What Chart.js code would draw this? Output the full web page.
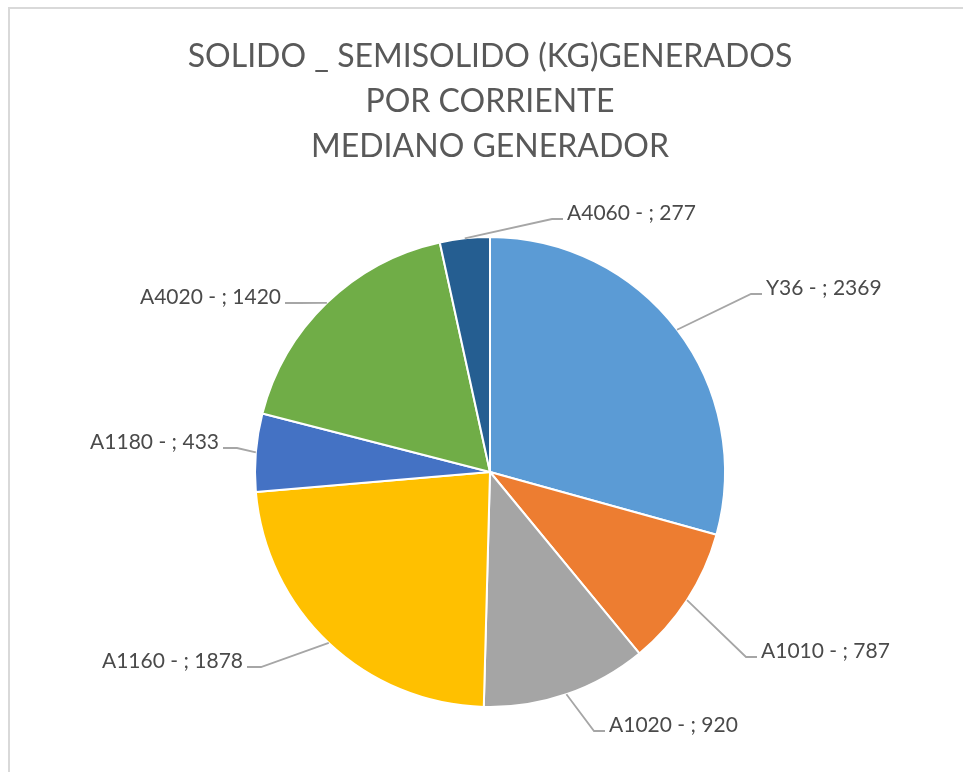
<!DOCTYPE html>
<html>
<head>
<meta charset="utf-8">
<script src="https://cdn.jsdelivr.net/npm/chart.js@4.4.0/dist/chart.umd.min.js"></script>
<style>
  html, body { margin: 0; padding: 0; background: #fff; }
  #frame { position: absolute; left: 8px; top: 7px; width: 960px; height: 770px;
           border-top: 2px solid #d9d9d9; border-left: 2px solid #d9d9d9; }
  #wrap { position: absolute; left: 0; top: 0; width: 963px; height: 772px; }
</style>
</head>
<body>
<div id="frame"></div>
<div id="wrap"><canvas id="mycanvas" width="963" height="772"></canvas></div>
<script>
var categories = ['Y36', 'A1010', 'A1020', 'A1160', 'A1180', 'A4020', 'A4060'];
var values = [2369, 787, 920, 1878, 433, 1420, 277];
var colors = ['#5B9BD5', '#ED7D31', '#A5A5A5', '#FFC000', '#4472C4', '#70AD47', '#255E91'];
var titleLines = ['SOLIDO _ SEMISOLIDO (KG)GENERADOS', 'POR CORRIENTE', 'MEDIANO GENERADOR'];

// where each label's leader ends, relative to the pie centre
var labelAnchors = [[272, -178], [267, 185], [115, 259], [-243, 195], [-267, -24], [-205, -169], [73, -253]];

var outsideLabels = {
	id: 'outsideLabels',
	afterDatasetsDraw: function(chart) {
		var ctx = chart.ctx;
		var arcs = chart.getDatasetMeta(0).data;
		ctx.save();
		ctx.font = '21px Lato';
		ctx.textBaseline = 'middle';
		for (var i = 0; i < arcs.length; i++) {
			var a = arcs[i].getProps(['x', 'y', 'startAngle', 'endAngle', 'outerRadius'], true);
			var mid = (a.startAngle + a.endAngle) / 2;
			var ex = a.x + Math.cos(mid) * a.outerRadius;
			var ey = a.y + Math.sin(mid) * a.outerRadius;
			var ax = a.x + labelAnchors[i][0];
			var ay = a.y + labelAnchors[i][1];
			var right = labelAnchors[i][0] > 0;
			var elbow = right ? ax - 11 : ax + 14;

			ctx.strokeStyle = '#a6a6a6';
			ctx.lineWidth = 1.8;
			ctx.beginPath();
			ctx.moveTo(ex, ey);
			ctx.lineTo(elbow, ay);
			ctx.lineTo(ax, ay);
			ctx.stroke();

			var text = categories[i] + ' - ; ' + values[i];
			ctx.fillStyle = '#4a4a4a';
			ctx.textAlign = right ? 'left' : 'right';
			ctx.fillText(text, right ? ax + 4 : ax - 4, ay - 6);
		}
		ctx.restore();
	}
};

var ctx = document.getElementById('mycanvas');

var pieChart = new Chart(ctx, {
	type: 'pie',
	data: {
		labels: categories,
		datasets: [{
			data: values,
			backgroundColor: colors,
			borderColor: '#ffffff',
			borderWidth: 2
		}]
	},
	options: {
		responsive: false,
		animation: false,
		layout: { padding: { top: 10, bottom: 64, left: 100, right: 83 } },
		plugins: {
			legend: { display: false },
			tooltip: { enabled: false },
			title: {
				display: true,
				text: titleLines,
				color: '#595959',
				font: { family: 'Lato', size: 32, weight: 'normal', lineHeight: '45px' },
				padding: { top: 24, bottom: 67 }
			}
		}
	},
	plugins: [outsideLabels]
});
</script>
</body>
</html>
